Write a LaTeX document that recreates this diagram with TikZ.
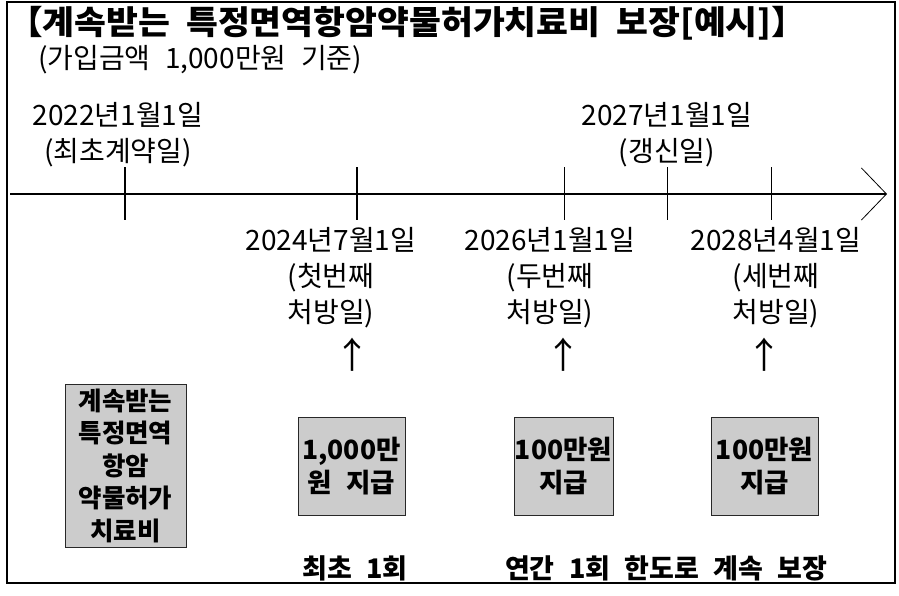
\documentclass[tikz,border=0pt]{standalone}
\usepackage{fontspec}
\setmainfont{Noto Sans CJK KR}[WordSpace=2.3]
\newfontfamily\titlefont{Noto Sans CJK KR}[FakeStretch=1.05, WordSpace=2.0]
\usetikzlibrary{arrows.meta}
\definecolor{boxgray}{RGB}{204,204,204}
\definecolor{edgegray}{RGB}{40,40,40}
\tikzset{
  plain/.style={inner sep=0pt, text=black},
  datelbl/.style={plain, align=center, font=\fontsize{28}{36}\selectfont},
  paybox/.style={draw=edgegray, line width=0.9pt, fill=boxgray, inner sep=0pt, align=center,
                 font=\bfseries\fontsize{26.5}{33}\selectfont},
  uparrow/.style={plain, font=\fontsize{36}{38}\selectfont},
  bottomlbl/.style={plain, font=\bfseries\fontsize{27}{30}\selectfont},
  tickthick/.style={line width=1.6pt},
  tickthin/.style={line width=0.8pt},
}
\begin{document}
\begin{tikzpicture}[x=1pt,y=-1pt]
\useasboundingbox (0,0) rectangle (899,595);
\draw[line width=1.4pt] (7,2) rectangle (895,583);

\node[plain, anchor=west, font=\titlefont\bfseries\fontsize{33}{36}\selectfont] (title) at (8,23)
  {【계속받는 특정면역항암약물허가치료비 보장[예시]】};
\node[plain, anchor=west, font=\fontsize{28}{32}\selectfont] (subtitle) at (38,60)
  {(가입금액 1,000만원 기준)};

% timeline
\coordinate (tstart) at (10,194);
\coordinate (tend) at (887,194);
\draw[line width=1.1pt, -{Straight Barb[length=25pt,width=52pt,line width=0.8pt]}] (tstart) -- (tend);

\coordinate (k1a) at (125,167); \coordinate (k1b) at (125,220);
\coordinate (k2a) at (357,167); \coordinate (k2b) at (357,220);
\coordinate (k3a) at (564,167); \coordinate (k3b) at (564,220);
\coordinate (k4a) at (667,167); \coordinate (k4b) at (667,220);
\coordinate (k5a) at (771,167); \coordinate (k5b) at (771,220);
\draw[tickthick] (k1a) -- (k1b);
\draw[tickthick] (k2a) -- (k2b);
\draw[tickthin] (k3a) -- (k3b);
\draw[tickthin] (k4a) -- (k4b);
\draw[tickthin] (k5a) -- (k5b);

% labels above
\node[datelbl] (top1) at (118,135) {2022년1월1일\\(최초계약일)};
\node[datelbl] (top2) at (667,135) {2027년1월1일\\(갱신일)};

% labels below
\node[datelbl] (rx1) at (331,278) {2024년7월1일\\(첫번째\\처방일)};
\node[datelbl] (rx2) at (550,278) {2026년1월1일\\(두번째\\처방일)};
\node[datelbl] (rx3) at (776,278) {2028년4월1일\\(세번째\\처방일)};

% up arrows
\node[uparrow] (up1) at (352,355) {↑};
\node[uparrow] (up2) at (563,355) {↑};
\node[uparrow] (up3) at (764,355) {↑};

% boxes
\node[paybox, minimum width=121pt, minimum height=163pt, font=\bfseries\fontsize{25.5}{32.5}\selectfont]
  (b0) at (125.5,465.5) {계속받는\\특정면역\\항암\\약물허가\\치료비};
\node[paybox, minimum width=107pt, minimum height=98pt] (b1) at (351.5,466) {1,000만\\원 지급};
\node[paybox, minimum width=99pt, minimum height=98pt] (b2) at (563.5,466) {100만원\\지급};
\node[paybox, minimum width=107pt, minimum height=98pt] (b3) at (764.5,466) {100만원\\지급};

% bottom labels
\node[bottomlbl] (first) at (355,568) {최초 1회};
\node[bottomlbl] (cont) at (666,568) {연간 1회 한도로 계속 보장};
\end{tikzpicture}
\end{document}
